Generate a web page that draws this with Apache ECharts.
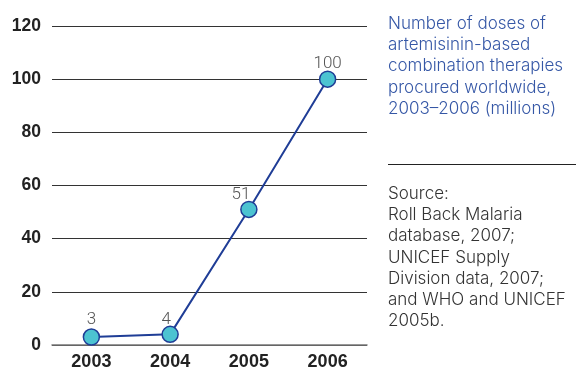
<!DOCTYPE html>
<html>
<head>
<meta charset="utf-8">
<script src="https://cdn.jsdelivr.net/npm/echarts@6/dist/echarts.min.js"></script>
<style>
  html, body { margin: 0; padding: 0; background: #fff; }
  #chart { width: 576px; height: 371px; }
</style>
</head>
<body>
<div id="chart"></div>
<script>
// ACT doses procured worldwide (millions)
const years = ['2003', '2004', '2005', '2006'];
const doses = [3, 4, 51, 100];
const yTicks = [0, 20, 40, 60, 80, 100, 120];
const titleLines = ['Number of doses of', 'artemisinin-based', 'combination therapies', 'procured worldwide,', '2003\u20132006 (millions)'];
const sourceLines = ['Source:', 'Roll Back Malaria', 'database, 2007;', 'UNICEF Supply', 'Division data, 2007;', 'and WHO and UNICEF', '2005b.'];

// label nudges per point (the 2004 and 2005 labels sit up and to the left)
const labelOffsets = [[0, -2], [-4, 1], [-8, 1], [0, 0]];

const chart = echarts.init(document.getElementById('chart'), null, { renderer: 'canvas' });

const sideFont = '300 17px Inter';
const textGraphics = [];
titleLines.forEach((t, i) => {
  textGraphics.push({
    type: 'text', left: 388, top: 15 + i * 21.3,
    style: { text: t, fill: '#3557a6', font: sideFont }
  });
});
sourceLines.forEach((t, i) => {
  textGraphics.push({
    type: 'text', left: 388, top: 185 + i * 21.3,
    style: { text: t, fill: '#333333', font: sideFont }
  });
});
textGraphics.push({
  type: 'line', shape: { x1: 388, y1: 164.5, x2: 576, y2: 164.5 },
  style: { stroke: '#222', lineWidth: 1 }
});

chart.setOption({
  animation: false,
  grid: { left: 52, right: 209, top: 26, bottom: 25, containLabel: false },
  xAxis: {
    type: 'category',
    data: years,
    boundaryGap: true,
    axisLine: { show: true, lineStyle: { color: '#777', width: 1.5 } },
    axisTick: { show: false },
    axisLabel: { color: '#222', fontWeight: 'bold', fontSize: 18, fontFamily: 'Liberation Sans', margin: 8 }
  },
  yAxis: {
    type: 'value',
    min: 0, max: 120, interval: 20,
    axisLine: { show: false },
    axisTick: { show: false },
    axisLabel: {
      color: '#222', fontWeight: 'bold', fontSize: 17.5, fontFamily: 'Liberation Sans', margin: 11,
      formatter: v => yTicks.includes(v) ? String(v) : ''
    },
    splitLine: { show: true, lineStyle: { color: '#333', width: 1 } }
  },
  series: [{
    type: 'line',
    data: doses.map((v, i) => ({
      value: v,
      label: { offset: labelOffsets[i] }
    })),
    symbol: 'circle',
    symbolSize: 16,
    lineStyle: { color: '#1f3d96', width: 2 },
    itemStyle: { color: '#4cc3d1', borderColor: '#1f3d96', borderWidth: 1.5 },
    label: {
      show: true, position: 'top', distance: -2,
      color: '#555', fontSize: 17, fontFamily: 'Roboto', fontWeight: 300
    },
    z: 3
  }],
  graphic: textGraphics
});
</script>
</body>
</html>
